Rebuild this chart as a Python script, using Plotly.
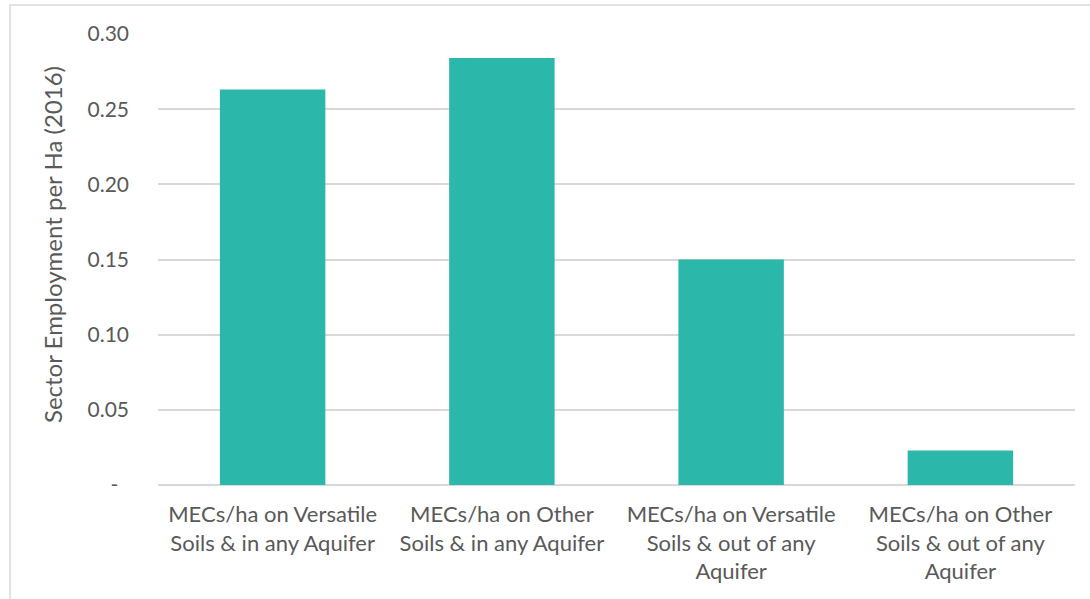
import plotly.graph_objects as go

categories = [
    "MECs/ha on Versatile<br>Soils & in any Aquifer",
    "MECs/ha on Other<br>Soils & in any Aquifer",
    "MECs/ha on Versatile<br>Soils & out of any<br>Aquifer",
    "MECs/ha on Other<br>Soils & out of any<br>Aquifer",
]
values = [0.263, 0.284, 0.150, 0.023]
y_tickvals = [0, 0.05, 0.10, 0.15, 0.20, 0.25, 0.30]
y_ticktext = ["-\u00a0\u00a0", "0.05", "0.10", "0.15", "0.20", "0.25", "0.30"]
y_title = "Sector Employment per Ha (2016)"

FONT = "Lato"
GRAY = "#595959"
GRID = "#d9d9d9"

fig = go.Figure(go.Bar(x=categories, y=values, marker_color="#2BB8AA", marker_line_width=0))

W, H = 1090, 599
ml, mr, mt, mb = 158, 15, 34, 114
pw, ph = W - ml - mr, H - mt - mb

fig.update_layout(
    width=W, height=H,
    margin=dict(l=ml, r=mr, t=mt, b=mb),
    paper_bgcolor="white", plot_bgcolor="white",
    bargap=0.54,
    showlegend=False,
    font=dict(family=FONT, color=GRAY, size=20),
    shapes=[dict(type="rect", xref="paper", yref="paper",
                 x0=(10 - ml) / pw, x1=1.2,
                 y0=-0.5, y1=(H - 5 - mb) / ph,
                 line=dict(color=GRID, width=1.5), fillcolor="rgba(0,0,0,0)", layer="below")],
    annotations=[dict(text=y_title, textangle=-90, xref="paper", yref="paper",
                      x=(52 - ml) / pw, y=(H - 245 - mb) / ph, xanchor="center", yanchor="middle",
                      showarrow=False, font=dict(size=24, color=GRAY))],
)
fig.update_xaxes(showgrid=False, showline=False, ticks="", tickfont=dict(size=22, color=GRAY),
                 ticklabelstandoff=14)
fig.update_yaxes(range=[0, 0.30], tickvals=y_tickvals, ticktext=y_ticktext,
                 showgrid=True, gridcolor=GRID, gridwidth=1.5, zeroline=True, zerolinecolor=GRID,
                 zerolinewidth=1.5, showline=False, ticks="", tickfont=dict(size=21, color=GRAY),
                 ticklabelstandoff=28)

fig.write_html("out.html")
